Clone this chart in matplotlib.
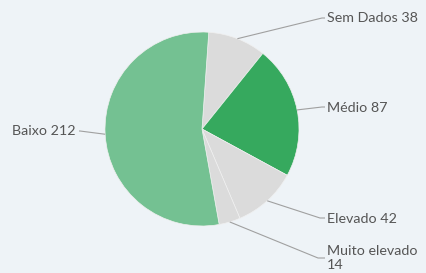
import numpy as np
import matplotlib
matplotlib.use("Agg")
import matplotlib.pyplot as plt

categories = ["Sem Dados", "Médio", "Elevado", "Muito elevado", "Baixo"]
values = [38, 87, 42, 14, 212]
label_texts = ["Sem Dados 38", "Médio 87", "Elevado 42", "Muito elevado\n14", "Baixo 212"]
colors = ["#dbdbdb", "#36a95e", "#dbdbdb", "#dbdbdb", "#74c192"]

W, H = 426, 273
fig = plt.figure(figsize=(W / 100, H / 100), dpi=100)
bg = "#eef3f7"
fig.patch.set_facecolor(bg)
ax = fig.add_axes([0, 0, 1, 1])
ax.set_facecolor(bg)

cx, cy, r = 202, H - 129, 97
wedges, _ = ax.pie(values, colors=colors, startangle=86, counterclock=False,
                   center=(cx, cy), radius=r, frame=True,
                   wedgeprops=dict(edgecolor="#f0f0f0", linewidth=0.5))
ax.set_xlim(0, W)
ax.set_ylim(0, H)
ax.set_aspect("equal")
ax.axis("off")

# label layout: (elbow x, elbow y, text x, text y, ha)
layout = [
    (322, H - 18, 327, H - 18, "left"),
    (322, H - 107, 327, H - 108, "left"),
    (320, H - 218, 327, H - 219, "left"),
    (318, H - 258, 327, H - 258, "left"),
    (80, H - 131, 76, H - 131, "right"),
]

for w, txt, (ex, ey, tx, ty, ha) in zip(wedges, label_texts, layout):
    ang = np.deg2rad((w.theta1 + w.theta2) / 2)
    sx, sy = cx + r * np.cos(ang), cy + r * np.sin(ang)
    ax.plot([sx, ex, tx - 2 if ha == "left" else tx + 3], [sy, ey, ey],
            color="#a0a0a0", lw=0.8, solid_capstyle="butt")
    ax.text(tx, ty, txt, ha=ha, va="center", fontsize=10.3, family="Lato",
            color="#555555", linespacing=1.25)

fig.savefig("out.png", dpi=100, facecolor=bg)
